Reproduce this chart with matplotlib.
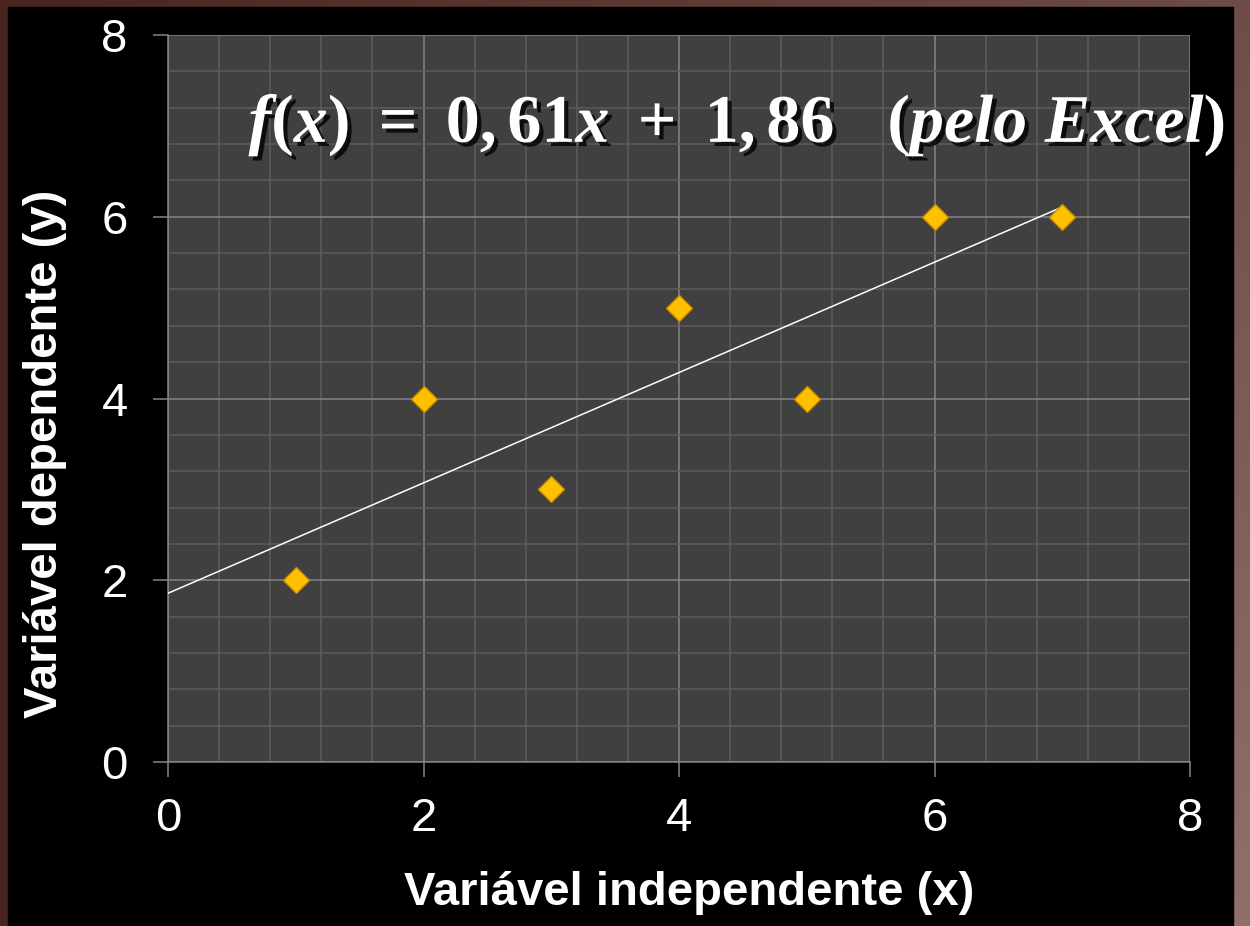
import matplotlib
matplotlib.use("Agg")
import matplotlib.pyplot as plt
import matplotlib.patheffects as pe
import numpy as np
from matplotlib.colors import to_rgb
from matplotlib.patches import Rectangle
from matplotlib.ticker import MultipleLocator

x_values = [1, 2, 3, 4, 5, 6, 7]
y_values = [2, 4, 3, 5, 4, 6, 6]
x_ticks = [0, 2, 4, 6, 8]
y_ticks = [0, 2, 4, 6, 8]
x_label = "Variável independente (x)"
y_label = "Variável dependente (y)"
equation = r"$f(x)\ =\ 0,61x\ +\ 1,86\ \ \ (pelo\ Excel)$"

plt.rcParams["font.family"] = ["Liberation Sans", "DejaVu Sans"]
plt.rcParams["mathtext.fontset"] = "custom"
plt.rcParams["mathtext.rm"] = "Liberation Serif:bold"
plt.rcParams["mathtext.it"] = "Liberation Serif:bold:italic"
plt.rcParams["mathtext.bf"] = "Liberation Serif:bold"

fig = plt.figure(figsize=(12.5, 9.26), dpi=100)

# brownish frame with a soft gradient, black slide area on top
bg = fig.add_axes([0, 0, 1, 1], zorder=-10)
corners = {
    "tl": np.array(to_rgb("#4a2420")),
    "tr": np.array(to_rgb("#6e4c47")),
    "bl": np.array(to_rgb("#4a2420")),
    "br": np.array(to_rgb("#917069")),
}
u = np.linspace(0, 1, 64)[None, :, None]
v = np.linspace(0, 1, 64)[:, None, None]
grad = ((1 - u) * (1 - v) * corners["tl"] + u * (1 - v) * corners["tr"]
        + (1 - u) * v * corners["bl"] + u * v * corners["br"])
bg.imshow(grad, extent=[0, 1, 0, 1], aspect="auto", interpolation="bilinear")
bg.add_patch(Rectangle((8 / 1250, 0), 1225 / 1250, 919 / 926, color="black"))
bg.set_xlim(0, 1)
bg.set_ylim(0, 1)
bg.axis("off")

ax = fig.add_axes([168 / 1250, 164 / 926, 1022 / 1250, 727 / 926])
ax.set_facecolor("#404040")

ax.set_xlim(0, 8)
ax.set_ylim(0, 8)
ax.set_xticks(x_ticks)
ax.set_yticks(y_ticks)
ax.xaxis.set_minor_locator(MultipleLocator(0.4))
ax.yaxis.set_minor_locator(MultipleLocator(0.4))
ax.set_axisbelow(True)
ax.grid(which="minor", color="#5c5c5c", linewidth=1.1)
ax.grid(which="major", color="#858585", linewidth=1.1)
ax.tick_params(which="minor", length=0)
ax.tick_params(which="major", direction="out", length=11, width=1.1,
               color="#858585", labelcolor="white", labelsize=34)
ax.tick_params(axis="x", pad=14)
ax.tick_params(axis="y", pad=18)

for side in ("top", "right"):
    ax.spines[side].set_visible(False)
for side in ("left", "bottom"):
    ax.spines[side].set_color("#858585")
    ax.spines[side].set_linewidth(1.1)

# trend line from a least squares fit
slope, intercept = np.polyfit(x_values, y_values, 1)
line_x = np.array([0, max(x_values)])
ax.plot(line_x, slope * line_x + intercept, color="white", linewidth=1.1, zorder=3)

ax.plot(x_values, y_values, linestyle="none", marker="D", markersize=13,
        markerfacecolor="#ffc000", markeredgecolor="#c88e00", markeredgewidth=1.0,
        zorder=4)

ax.text(0.63, 6.82, equation, color="white", fontsize=49, ha="left",
        va="baseline", clip_on=False, zorder=5,
        path_effects=[pe.withSimplePatchShadow(offset=(3, -3), shadow_rgbFace="black", alpha=0.8)])

ax.set_xlabel(x_label, color="white", fontsize=34, fontweight="bold", va="center")
ax.set_ylabel(y_label, color="white", fontsize=34, fontweight="bold", va="center")
ax.xaxis.set_label_coords(0.51, -0.18)
ax.yaxis.set_label_coords(-0.12, 0.424)

fig.savefig("out.png", dpi=100, facecolor="black")
